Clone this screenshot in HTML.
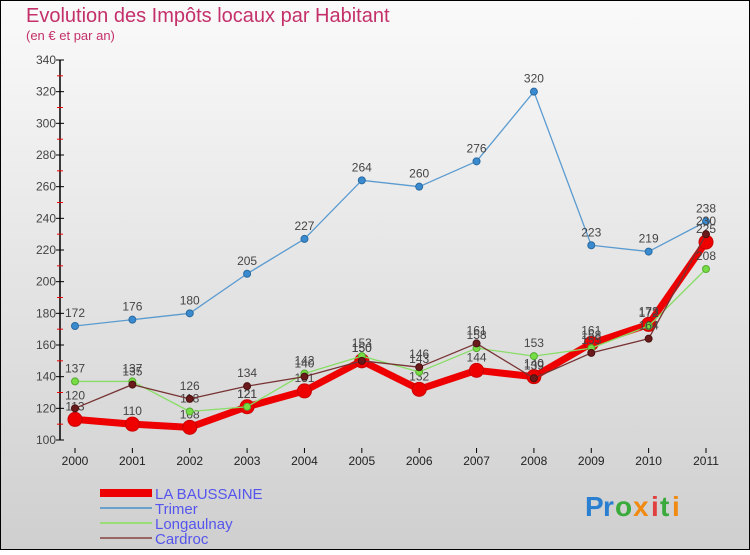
<!DOCTYPE html>
<html><head><meta charset="utf-8"><style>
html,body{margin:0;padding:0;}
body{width:750px;height:550px;overflow:hidden;font-family:"Liberation Sans",sans-serif;}
svg text{font-family:"Liberation Sans",sans-serif;}
</style></head><body>
<svg width="750" height="550" xmlns="http://www.w3.org/2000/svg">
<defs><linearGradient id="bg" x1="0" y1="0" x2="0" y2="1"><stop offset="0" stop-color="#fafafa"/><stop offset="1" stop-color="#cfcfcf"/></linearGradient></defs>
<rect x="0.5" y="0.5" width="749" height="549" fill="url(#bg)" stroke="#000"/>
<text x="26" y="22" font-size="20" fill="#c4306a">Evolution des Impôts locaux par Habitant</text>
<text x="26" y="40" font-size="13" fill="#c4306a">(en € et par an)</text>
<g id="axes"></g>
<g id="series"></g>
<g id="legend">
<rect x="100" y="489" width="52" height="8" fill="#ee0000"/>
<text x="155" y="499" font-size="15" fill="#5555ee">LA BAUSSAINE</text>
<line x1="100" y1="508" x2="152" y2="508" stroke="#6aa0cc" stroke-width="2"/>
<text x="155" y="514" font-size="15" fill="#5555ee">Trimer</text>
<line x1="100" y1="523" x2="152" y2="523" stroke="#99dd77" stroke-width="2"/>
<text x="155" y="529" font-size="15" fill="#5555ee">Longaulnay</text>
<line x1="100" y1="538" x2="152" y2="538" stroke="#996666" stroke-width="2"/>
<text x="155" y="544" font-size="15" fill="#5555ee">Cardroc</text>
</g>
<g font-size="28" font-weight="bold">
<text x="585" y="516" fill="#2a7fd0">P</text><text x="603" y="516" fill="#2a7fd0">r</text>
<text x="615" y="516" fill="#3aaa3a">o</text><text x="633" y="516" fill="#f08a10">x</text>
<text x="651" y="516" fill="#e04040">i</text><text x="660" y="516" fill="#3aaa3a">t</text><text x="672" y="516" fill="#f08a10">i</text>
</g>
</svg>
<script>
const years=["2000","2001","2002","2003","2004","2005","2006","2007","2008","2009","2010","2011"];
const yTicks=[100,120,140,160,180,200,220,240,260,280,300,320,340];
const baussaine=[113,110,108,121,131,150,132,144,140,161,173,225];
const trimer=[172,176,180,205,227,264,260,276,320,223,219,238];
const longaulnay=[137,137,118,121,142,153,143,158,153,158,172,208];
const cardroc=[120,135,126,134,140,150,146,161,139,155,164,230];
const NS="http://www.w3.org/2000/svg";
const X=i=>75+i*(706-75)/(years.length-1);
const Y=v=>440-(v-100)*380/240;
function mk(t,a,p){const e=document.createElementNS(NS,t);for(const k in a)e.setAttribute(k,a[k]);p.appendChild(e);return e;}
const axes=document.getElementById('axes');
const ax=mk('line',{x1:60,y1:60,x2:60,y2:440,stroke:'#000','stroke-width':1.5},axes);


yTicks.forEach((v,i)=>{
 const t=mk('line',{x1:56,y1:Y(v),x2:64,y2:Y(v),stroke:'#000'},axes);
 
 
 if(i<yTicks.length-1){const m=mk('line',{x1:57,y1:Y(v+10),x2:63,y2:Y(v+10),stroke:'#e00'},axes);
 
 }
 const l=mk('text',{x:56,y:Y(v)+4,'text-anchor':'end','font-size':12,fill:'#444'},axes);
 l.textContent=v;
 
 
});
years.forEach((y,i)=>{
 const t=mk('line',{x1:X(i),y1:448,x2:X(i),y2:453,stroke:'#000'},axes);
 
 
 const l=mk('text',{x:X(i),y:465,'text-anchor':'middle','font-size':12,fill:'#222'},axes);
 l.textContent=y;
 
 
});
const sg=document.getElementById('series');
function series(data,name,color,w,r,dot,stroke){
 const g=mk('g',{},sg);
 
 
 const pl=mk('polyline',{points:data.map((v,i)=>X(i)+','+Y(v)).join(' '),fill:'none',stroke:color,'stroke-width':w,'stroke-linejoin':'round'},g);
 
 
 data.forEach((v,i)=>{
  const c=mk('circle',{cx:X(i),cy:Y(v),r:r,fill:dot,stroke:stroke,'stroke-width':1},g);
  
  
  const t=mk('text',{x:X(i),y:Y(v)-9,'text-anchor':'middle','font-size':12,fill:'#444'},g);
  t.textContent=v;
  
  
 });
}
series(trimer,'trimer','#5b9bd0',1.3,3.5,'#3a8ad0','#2a6aa0');
series(baussaine,'la-baussaine','#ee0000',7,7,'#ee0000','#cc0000');
series(longaulnay,'longaulnay','#88dd66',1.3,3.5,'#77dd44','#55aa33');
series(cardroc,'cardroc','#773333',1.3,3.5,'#6a1a1a','#4a1010');
</script>
</body></html>
